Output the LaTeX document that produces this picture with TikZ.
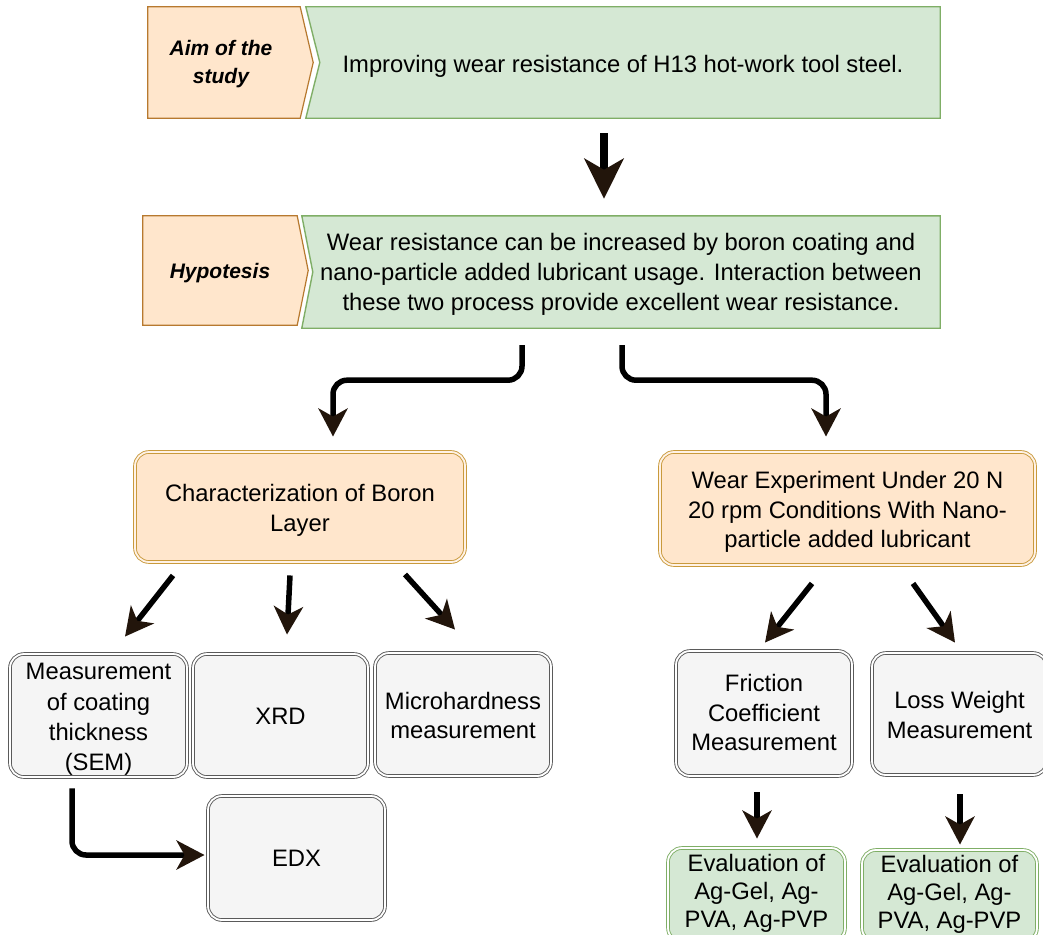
\documentclass[tikz,border=0pt]{standalone}
\usepackage{fontspec}
\setmainfont{Liberation Sans}
\usetikzlibrary{arrows.meta,calc,backgrounds}
\definecolor{orfill}{HTML}{FFE6CC}
\definecolor{orline}{HTML}{B7792F}
\definecolor{goldline}{HTML}{C99A3C}
\definecolor{grfill}{HTML}{D5E8D4}
\definecolor{grline}{HTML}{7FAE66}
\definecolor{gyfill}{HTML}{F5F5F5}
\definecolor{gyline}{HTML}{5A5A5A}
\definecolor{tipcol}{HTML}{22150B}

\begin{document}
\begin{tikzpicture}[x=1pt,y=-1pt,
  txt/.style={font=\fontsize{23.8}{29.7}\selectfont, align=center, text=black, inner sep=0pt},
  evtxt/.style={txt, font=\fontsize{23.8}{28}\selectfont},
  lbl/.style={font=\fontsize{21}{28}\selectfont\bfseries\itshape, align=center, text=black},
  band/.style={inner sep=0pt},
  rbox/.style={rounded corners=14pt, line width=0.9pt, double distance=1.8pt, inner sep=0pt},
  greybox/.style={rbox, draw=gyline, double=white, fill=gyfill},
  orbox/.style={rbox, draw=goldline, double=orfill!50!white, fill=orfill},
  grbox/.style={rbox, draw=grline, double=white, fill=grfill},
  orshape/.style={fill=orfill, draw=orline, line width=1.2pt, line join=miter},
  grshape/.style={fill=grfill, draw=grline, line width=1.4pt, line join=miter},
  arr/.style={draw=black, line width=5.5pt, -{Stealth[length=28pt, width=29pt, inset=8pt, color=tipcol]}},
  bigarr/.style={draw=black, line width=8.5pt, -{Stealth[length=40pt, width=39pt, inset=11pt, color=tipcol]}},
]
\useasboundingbox (0,0) rectangle (1043,934);

% --- top band: aim of the study ---
\node[band, minimum width=152pt, minimum height=111pt] (aim) at (224,62.5) {};
\node[lbl] (aimtxt) at ($(aim)+(-3,1.5)$) {Aim of the\\study};
\node[band, minimum width=634pt, minimum height=111pt] (goal) at (623,62.5) {};
\node[txt] (goaltxt) at ($(goal)+(0,3.5)$)
  {Improving wear resistance of H13 hot-work tool steel.};

% --- second band: hypothesis ---
\node[band, minimum width=154pt, minimum height=109pt] (hypl) at (220,270.5) {};
\node[lbl] (hypltxt) at ($(hypl)+(0,2.5)$) {Hypotesis};
\node[band, minimum width=638pt, minimum height=112pt] (hyp) at (621,272) {};
\node[txt] (hyptxt) at ($(hyp)+(0,2.5)$)
  {Wear resistance can be increased by boron coating and\\
   nano-particle added lubricant usage. Interaction between\\
   these two process provide excellent wear resistance.};

\begin{scope}[on background layer]
  \fill[white] (0,0) rectangle (1043,934);
  \path[orshape] (aim.north west) -- (aim.north east) -- ($(aim.east)+(13,0)$)
    -- (aim.south east) -- (aim.south west) -- cycle;
  \path[grshape] (goal.north west) -- (goal.north east) -- (goal.south east)
    -- (goal.south west) -- ($(goal.west)+(14,0)$) -- cycle;
  \path[orshape] (hypl.north west) -- (hypl.north east) -- ($(hypl.east)+(11,0)$)
    -- (hypl.south east) -- (hypl.south west) -- cycle;
  \path[grshape] (hyp.north west) -- (hyp.north east) -- (hyp.south east)
    -- (hyp.south west) -- ($(hyp.west)+(11,0)$) -- cycle;
\end{scope}

% --- two branches ---
\node[orbox, minimum width=330pt, minimum height=110pt] (char) at (300,507) {};
\node[txt] (chartxt) at ($(char)+(0,3)$) {Characterization of Boron\\Layer};
\node[orbox, minimum width=375pt, minimum height=113pt] (wear) at (847.5,508.5) {};
\node[txt] (weartxt) at ($(wear)+(0,3.5)$)
  {Wear Experiment Under 20 N\\20 rpm Conditions With Nano-\\particle added lubricant};

% --- characterization methods ---
\node[greybox, minimum width=177pt, minimum height=123pt] (meas) at (98.5,715.5) {};
\node[txt, font=\fontsize{23.8}{30.3}\selectfont] (meastxt) at ($(meas)+(0,4)$)
  {Measurement\\of coating\\thickness\\(SEM)};
\node[greybox, minimum width=175pt, minimum height=123pt] (xrd) at (280.5,715.5) {};
\node[txt] (xrdtxt) at ($(xrd)+(0,1)$) {XRD};
\node[greybox, minimum width=176pt, minimum height=123pt] (micro) at (463,714.5) {};
\node[txt] (microtxt) at ($(micro)+(0,1)$) {Microhardness\\measurement};
\node[greybox, minimum width=177pt, minimum height=124pt] (edx) at (296.5,858) {};
\node[txt] (edxtxt) at (edx) {EDX};

% --- wear measurements ---
\node[greybox, minimum width=176pt, minimum height=125pt] (fric) at (764,713.5) {};
\node[txt] (frictxt) at ($(fric)+(0,-1)$) {Friction\\Coefficient\\Measurement};
\node[greybox, minimum width=175pt, minimum height=122pt] (loss) at (959.5,714) {};
\node[txt] (losstxt) at ($(loss)+(0,1)$) {Loss Weight\\Measurement};
\node[grbox, minimum width=177pt, minimum height=94pt] (evl) at (756.5,895) {};
\node[evtxt] (evltxt) at ($(evl)+(0,-1.5)$) {Evaluation of\\Ag-Gel, Ag-\\PVA, Ag-PVP};
\node[grbox, minimum width=175pt, minimum height=92pt] (evr) at (949.5,896) {};
\node[evtxt] (evrtxt) at ($(evr)+(0,-1.5)$) {Evaluation of\\Ag-Gel, Ag-\\PVA, Ag-PVP};

% --- connectors ---
\draw[bigarr] ($(goal.south)+(-19,15)$) -- ($(hyp.north)+(-17,-17)$);
\draw[arr, rounded corners=14pt] ($(hyp.south)+(-99,17)$) -- ++(0,35) -| ($(char.north)+(33,-15)$);
\draw[arr, rounded corners=14pt] ($(hyp.south)+(1,17)$) -- ++(0,35) -| ($(wear.north)+(-21.5,-15)$);

\draw[arr] ($(char.south)+(-127,13)$) -- ($(meas.north)+(26.5,-17)$);
\draw[arr] ($(char.south)+(-10,13)$) -- ($(xrd.north)+(6.5,-19)$);
\draw[arr] ($(char.south)+(105,12)$) -- ($(micro.north)+(-8,-23)$);
\draw[arr, rounded corners=14pt] ($(meas.south)+(-26.5,11)$) |- ($(edx.west)+(-3,-3)$);

\draw[arr] ($(wear.south)+(-35.5,18)$) -- ($(fric.north)+(1,-8)$);
\draw[arr] ($(wear.south)+(65.5,18)$) -- ($(loss.north)+(-4.5,-10)$);
\draw[arr] ($(fric.south)+(-7,16)$) -- ($(evl.north)+(0.5,-9)$);
\draw[arr] ($(loss.south)+(0.5,19)$) -- ($(evr.north)+(10.5,-5)$);
\end{tikzpicture}
\end{document}
